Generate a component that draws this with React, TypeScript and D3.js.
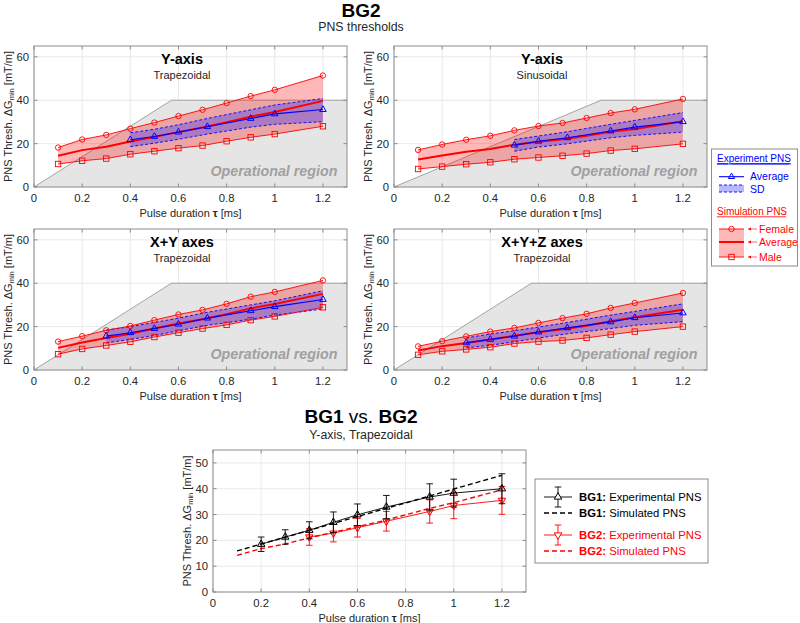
import React from "react";
import * as d3 from "d3";

// ---------- data ----------
const simX = [0.1, 0.2, 0.3, 0.4, 0.5, 0.6, 0.7, 0.8, 0.9, 1.0, 1.2];
const xTicks = [0, 0.2, 0.4, 0.6, 0.8, 1.0, 1.2];
const yTicksTop = [0, 20, 40, 60];
const yTicksBottom = [0, 10, 20, 30, 40, 50];

// Y-axis, trapezoidal
const ytFemale = [18.2, 21.9, 24.0, 26.9, 29.7, 32.7, 35.6, 38.7, 41.9, 44.8, 51.4];
const ytMale = [10.6, 12.1, 13.1, 15.1, 16.5, 17.9, 19.1, 21.1, 22.9, 24.4, 28.0];
const ytAvg = [14.4, 17.0, 18.6, 21.0, 23.1, 25.3, 27.4, 29.9, 32.4, 34.6, 39.7];
const ytExpX = [0.4, 0.5, 0.6, 0.72, 0.9, 1.0, 1.2];
const ytExp = [21.8, 23.3, 25.3, 27.8, 31.6, 33.7, 35.7];
const ytExpUp = [25.0, 26.6, 28.7, 31.6, 35.6, 37.8, 40.8];
const ytExpLo = [18.6, 20.2, 22.0, 24.4, 27.6, 28.9, 30.1];

// Y-axis, sinusoidal
const ysFemale = [17.1, 19.6, 21.8, 23.6, 26.1, 28.1, 29.5, 31.8, 34.1, 35.8, 40.6];
const ysMale = [8.3, 9.4, 10.5, 11.4, 12.8, 13.6, 14.4, 15.4, 16.8, 17.6, 19.9];
const ysAvg = [12.7, 14.5, 16.2, 17.5, 19.5, 20.9, 22.0, 23.6, 25.5, 26.7, 30.3];
const ysExpX = [0.5, 0.6, 0.72, 0.9, 1.0, 1.2];
const ysExp = [19.3, 21.1, 22.7, 25.8, 27.6, 30.1];
const ysExpUp = [21.9, 23.5, 25.5, 28.9, 30.7, 34.3];
const ysExpLo = [16.5, 18.4, 19.9, 22.7, 23.8, 25.3];

// X+Y axes, trapezoidal
const xyFemale = [13.1, 15.6, 18.3, 20.3, 23.0, 25.6, 27.7, 30.5, 33.8, 36.0, 41.3];
const xyMale = [7.3, 9.7, 11.3, 13.0, 15.2, 17.2, 19.1, 20.8, 23.0, 24.7, 28.9];
const xyAvg = [10.2, 12.7, 14.8, 16.7, 19.1, 21.4, 23.4, 25.7, 28.4, 30.4, 35.1];
const xyExpX = [0.3, 0.4, 0.5, 0.6, 0.72, 0.9, 1.0, 1.2];
const xyExp = [15.6, 17.2, 19.1, 21.1, 23.9, 27.3, 29.2, 32.5];
const xyExpUp = [18.4, 20.0, 21.9, 23.9, 26.6, 30.0, 31.9, 36.5];
const xyExpLo = [12.5, 14.1, 15.9, 18.1, 20.6, 23.4, 25.3, 28.1];

// X+Y+Z axes, trapezoidal
const xyzFemale = [10.9, 13.3, 15.5, 17.7, 19.4, 21.7, 23.9, 25.9, 28.6, 30.9, 35.5];
const xyzMale = [7.0, 8.6, 9.5, 10.5, 12.2, 13.1, 13.6, 14.8, 16.3, 17.7, 20.0];
const xyzAvg = [9.0, 11.0, 12.5, 14.1, 15.8, 17.4, 18.8, 20.4, 22.5, 24.3, 27.8];
const xyzExpX = [0.3, 0.4, 0.5, 0.6, 0.72, 0.9, 1.0, 1.2];
const xyzExp = [12.5, 14.1, 15.6, 17.5, 19.4, 22.2, 24.1, 26.3];
const xyzExpUp = [14.8, 16.6, 18.1, 19.8, 21.9, 25.3, 27.0, 30.5];
const xyzExpLo = [10.2, 11.4, 13.0, 14.7, 16.7, 19.1, 20.6, 22.3];

// operational region corner (pulse duration where 40 mT/m is reached)
const trapCorner = 0.571;
const sinCorner = 0.86;
const opLevel = 40;

// BG1 vs BG2
const bg1X = [0.2, 0.3, 0.4, 0.5, 0.6, 0.72, 0.9, 1.0, 1.2];
const bg1Exp = [18.5, 21.3, 23.9, 27.0, 29.9, 32.9, 36.8, 38.3, 40.0];
const bg1Err = [2.8, 2.8, 3.3, 4.0, 4.2, 4.5, 5.1, 5.4, 5.8];
const bg1Sim = [15.9, 18.6, 21.2, 23.9, 26.6, 29.2, 31.9, 34.5, 37.2, 39.9, 45.2];
const bg2X = [0.4, 0.5, 0.6, 0.72, 0.9, 1.0, 1.2];
const bg2Exp = [21.3, 22.8, 24.9, 27.4, 31.2, 33.5, 35.5];
const bg2Err = [3.2, 3.4, 3.6, 3.8, 4.5, 5.1, 5.4];
const bg2Sim = [14.2, 16.8, 18.6, 21.0, 23.1, 25.3, 27.4, 29.9, 32.4, 34.6, 39.6];

// ---------- style ----------
const FONT = "'Liberation Sans', Arial, Helvetica, sans-serif";
const BOX = "#8c8c8c";
const TXT = "#262626";
const GRID = "#e3e3e3";
const RED = "#ff0000";
const BLUE = "#0000ff";
const PINK = "rgba(255,0,0,0.28)";
const LAV = "rgba(40,40,255,0.33)";

const triUp = (x: number, y: number, r: number) =>
  `M${x},${y - r}L${x + r * 0.866},${y + r * 0.5}L${x - r * 0.866},${y + r * 0.5}Z`;
const triDown = (x: number, y: number, r: number) =>
  `M${x},${y + r}L${x + r * 0.866},${y - r * 0.5}L${x - r * 0.866},${y - r * 0.5}Z`;

function fmt(v: number) {
  return v === 0 ? "0" : v === 1 ? "1" : String(Math.round(v * 10) / 10);
}

type AxesProps = {
  x: d3.ScaleLinear<number, number>;
  y: d3.ScaleLinear<number, number>;
  yTicks: number[];
  layer: "grid" | "box";
};

function Axes({ x, y, yTicks, layer }: AxesProps) {
  const [x0, x1] = x.range();
  const [y0, y1] = y.range(); // y0 bottom, y1 top
  if (layer === "grid") {
    return (
      <g>
        <rect x={x0} y={y1} width={x1 - x0} height={y0 - y1} fill="#fff" />
        {xTicks.map((t) => (
          <line key={"gx" + t} x1={x(t)} x2={x(t)} y1={y0} y2={y1} stroke={GRID} strokeWidth={0.8} />
        ))}
        {yTicks.map((t) => (
          <line key={"gy" + t} x1={x0} x2={x1} y1={y(t)} y2={y(t)} stroke={GRID} strokeWidth={0.8} />
        ))}
      </g>
    );
  }
  const tl = 3.5;
  return (
    <g>
      <rect x={x0} y={y1} width={x1 - x0} height={y0 - y1} fill="none" stroke={BOX} strokeWidth={1} />
      {xTicks.map((t) => (
        <g key={"tx" + t}>
          <line x1={x(t)} x2={x(t)} y1={y0} y2={y0 - tl} stroke={BOX} />
          <line x1={x(t)} x2={x(t)} y1={y1} y2={y1 + tl} stroke={BOX} />
          <text x={x(t)} y={y0 + 15} textAnchor="middle" fontSize={11.3} fill={TXT}>
            {fmt(t)}
          </text>
        </g>
      ))}
      {yTicks.map((t) => (
        <g key={"ty" + t}>
          <line x1={x0} x2={x0 + tl} y1={y(t)} y2={y(t)} stroke={BOX} />
          <line x1={x1} x2={x1 - tl} y1={y(t)} y2={y(t)} stroke={BOX} />
          <text x={x0 - 5} y={y(t) + 4} textAnchor="end" fontSize={11.3} fill={TXT}>
            {t}
          </text>
        </g>
      ))}
      <text x={(x0 + x1) / 2} y={y0 + 30} textAnchor="middle" fontSize={11} fill={TXT}>
        Pulse duration <tspan fontWeight="bold">τ</tspan> [ms]
      </text>
      <text
        transform={`translate(${x0 - 22.5},${(y0 + y1) / 2}) rotate(-90)`}
        textAnchor="middle"
        fontSize={11}
        fill={TXT}
      >
        PNS Thresh. ΔG
        <tspan fontSize={7.5} dy={2.5}>
          min
        </tspan>
        <tspan dy={-2.5}> [mT/m]</tspan>
      </text>
    </g>
  );
}

type PanelProps = {
  left: number;
  top: number;
  title: string;
  sub: string;
  corner: number;
  female: number[];
  male: number[];
  avg: number[];
  expX: number[];
  exp: number[];
  up: number[];
  lo: number[];
};

function Panel(p: PanelProps) {
  const x = d3.scaleLinear().domain([0, 1.3]).range([p.left, p.left + 313]);
  const y = d3.scaleLinear().domain([0, 65]).range([p.top + 141, p.top]);
  const simPts = simX.map((v, i) => ({ x: v, f: p.female[i], m: p.male[i], a: p.avg[i] }));
  const expPts = p.expX.map((v, i) => ({ x: v, e: p.exp[i], u: p.up[i], l: p.lo[i] }));
  const pinkArea = d3
    .area<(typeof simPts)[0]>()
    .x((d) => x(d.x))
    .y0((d) => y(d.m))
    .y1((d) => y(d.f));
  const lavArea = d3
    .area<(typeof expPts)[0]>()
    .x((d) => x(d.x))
    .y0((d) => y(d.l))
    .y1((d) => y(d.u));
  const ln = (key: "f" | "m" | "a") =>
    d3
      .line<(typeof simPts)[0]>()
      .x((d) => x(d.x))
      .y((d) => y(d[key]))(simPts) as string;
  const eln = (key: "e" | "u" | "l") =>
    d3
      .line<(typeof expPts)[0]>()
      .x((d) => x(d.x))
      .y((d) => y(d[key]))(expPts) as string;
  const op: [number, number][] = [
    [0, 0],
    [p.corner, opLevel],
    [1.3, opLevel],
    [1.3, 0],
  ];
  const opPath = d3.line()(op.map(([a, b]) => [x(a), y(b)])) + "Z";
  const opEdge = d3.line()(op.slice(0, 3).map(([a, b]) => [x(a), y(b)])) as string;
  return (
    <g>
      <Axes x={x} y={y} yTicks={yTicksTop} layer="grid" />
      <path d={opPath} fill="#e5e5e5" />
      <path d={opEdge} fill="none" stroke="#9a9a9a" strokeWidth={0.9} />
      <text
        x={x(1.3) - 9.5}
        y={y(0) - 11.5}
        textAnchor="end"
        fontSize={14.3}
        fontWeight="bold"
        fontStyle="italic"
        fill="#a0a0a0"
      >
        Operational region
      </text>
      <path d={pinkArea(simPts) as string} fill={PINK} />
      <path d={lavArea(expPts) as string} fill={LAV} />
      <path d={eln("u")} fill="none" stroke={BLUE} strokeWidth={0.9} strokeDasharray="3,2" />
      <path d={eln("l")} fill="none" stroke={BLUE} strokeWidth={0.9} strokeDasharray="3,2" />
      <path d={ln("f")} fill="none" stroke={RED} strokeWidth={0.9} />
      <path d={ln("m")} fill="none" stroke={RED} strokeWidth={0.9} />
      {simPts.map((d) => (
        <g key={"mk" + d.x}>
          <circle cx={x(d.x)} cy={y(d.f)} r={2.7} fill="none" stroke={RED} strokeWidth={0.9} />
          <rect
            x={x(d.x) - 2.7}
            y={y(d.m) - 2.7}
            width={5.4}
            height={5.4}
            fill="none"
            stroke={RED}
            strokeWidth={0.9}
          />
        </g>
      ))}
      <path d={ln("a")} fill="none" stroke={RED} strokeWidth={2} />
      <path d={eln("e")} fill="none" stroke={BLUE} strokeWidth={1.1} />
      {expPts.map((d) => (
        <path key={"tr" + d.x} d={triUp(x(d.x), y(d.e), 3.8)} fill="none" stroke={BLUE} strokeWidth={1} />
      ))}
      <Axes x={x} y={y} yTicks={yTicksTop} layer="box" />
      <text x={p.left + 148} y={p.top + 17.5} textAnchor="middle" fontSize={14.5} fontWeight="bold" fill="#000">
        {p.title}
      </text>
      <text x={p.left + 148} y={p.top + 33.3} textAnchor="middle" fontSize={11} fill={TXT}>
        {p.sub}
      </text>
    </g>
  );
}

function BottomPanel() {
  const x = d3.scaleLinear().domain([0, 1.3]).range([213, 526]);
  const y = d3.scaleLinear().domain([0, 55]).range([592, 450]);
  const simLine = (vals: number[]) =>
    d3
      .line<number>()
      .x((_, i) => x(simX[i]))
      .y((d) => y(d))(vals) as string;
  const expLine = (xs: number[], vals: number[]) =>
    d3
      .line<number>()
      .x((_, i) => x(xs[i]))
      .y((d) => y(d))(vals) as string;
  const errBars = (xs: number[], vals: number[], errs: number[], color: string, down: boolean) =>
    xs.map((xv, i) => {
      const cx = x(xv);
      const yt = y(vals[i] + errs[i]);
      const yb = y(vals[i] - errs[i]);
      const cy = y(vals[i]);
      return (
        <g key={color + xv}>
          <line x1={cx} x2={cx} y1={yt} y2={yb} stroke={color} strokeWidth={0.9} />
          <line x1={cx - 3.3} x2={cx + 3.3} y1={yt} y2={yt} stroke={color} strokeWidth={0.9} />
          <line x1={cx - 3.3} x2={cx + 3.3} y1={yb} y2={yb} stroke={color} strokeWidth={0.9} />
          <path
            d={down ? triDown(cx, cy, 4.3) : triUp(cx, cy, 4.3)}
            fill={down ? "rgba(255,0,0,0.15)" : "rgba(0,0,0,0.12)"}
            stroke={color}
            strokeWidth={1}
          />
        </g>
      );
    });
  return (
    <g>
      <Axes x={x} y={y} yTicks={yTicksBottom} layer="grid" />
      <path d={simLine(bg1Sim)} fill="none" stroke="#000" strokeWidth={1.4} strokeDasharray="5,3" />
      <path d={simLine(bg2Sim)} fill="none" stroke={RED} strokeWidth={1.4} strokeDasharray="5,3" />
      <path d={expLine(bg2X, bg2Exp)} fill="none" stroke={RED} strokeWidth={0.9} />
      {errBars(bg2X, bg2Exp, bg2Err, RED, true)}
      <path d={expLine(bg1X, bg1Exp)} fill="none" stroke="#000" strokeWidth={0.9} />
      {errBars(bg1X, bg1Exp, bg1Err, "#000", false)}
      <Axes x={x} y={y} yTicks={yTicksBottom} layer="box" />
    </g>
  );
}

function TopLegend() {
  const lx = 719;
  const rx = 744;
  const mx = (lx + rx) / 2;
  const tx = 750;
  const fs = 10;
  return (
    <g>
      <rect x={711.5} y={149} width={86} height={117} fill="#fff" stroke={BOX} strokeWidth={1} />
      <text x={717} y={162.3} fontSize={fs} fill={BLUE} textDecoration="underline">
        Experiment PNS
      </text>
      <line x1={717} x2={789} y1={164} y2={164} stroke={BLUE} strokeWidth={0.8} />
      <line x1={lx} x2={rx} y1={176.7} y2={176.7} stroke={BLUE} strokeWidth={1.1} />
      <path d={triUp(mx, 176.7, 3.6)} fill="none" stroke={BLUE} strokeWidth={1} />
      <text x={tx} y={180.3} fontSize={fs + 0.5} fill={BLUE}>
        Average
      </text>
      <rect x={lx} y={185} width={rx - lx} height={7} fill={LAV} />
      <line x1={lx} x2={rx} y1={185} y2={185} stroke={BLUE} strokeWidth={0.9} strokeDasharray="3,2" />
      <line x1={lx} x2={rx} y1={192} y2={192} stroke={BLUE} strokeWidth={0.9} strokeDasharray="3,2" />
      <text x={tx} y={192.5} fontSize={fs + 0.5} fill={BLUE}>
        SD
      </text>
      <text x={717} y={215} fontSize={fs} fill={RED}>
        Simulation PNS
      </text>
      <line x1={717} x2={786} y1={216.8} y2={216.8} stroke={RED} strokeWidth={0.8} />
      <rect x={lx} y={229} width={rx - lx} height={28} fill={PINK} />
      <line x1={lx} x2={rx} y1={229} y2={229} stroke={RED} strokeWidth={0.9} />
      <circle cx={mx} cy={229} r={2.7} fill="none" stroke={RED} strokeWidth={0.9} />
      <line x1={lx} x2={rx} y1={242} y2={242} stroke={RED} strokeWidth={2} />
      <line x1={lx} x2={rx} y1={257} y2={257} stroke={RED} strokeWidth={0.9} />
      <rect x={mx - 2.7} y={257 - 2.7} width={5.4} height={5.4} fill="none" stroke={RED} strokeWidth={0.9} />
      {[
        ["Female", 229],
        ["Average", 242],
        ["Male", 257],
      ].map(([lab, yy]) => (
        <g key={lab as string}>
          <line x1={748} x2={757} y1={yy as number} y2={yy as number} stroke={RED} strokeWidth={0.6} />
          <path
            d={`M748,${yy}l3,-1.6l0,3.2z`}
            fill={RED}
          />
          <text x={759} y={(yy as number) + 3.8} fontSize={fs + 0.5} fill={RED}>
            {lab}
          </text>
        </g>
      ))}
    </g>
  );
}

function BottomLegend() {
  const lx = 544;
  const rx = 572;
  const mx = (lx + rx) / 2;
  const tx = 579;
  const fs = 11.3;
  const rows = [
    { y: 497, c: "#000", lab: "BG1:", exp: true },
    { y: 513, c: "#000", lab: "BG1:", exp: false },
    { y: 535, c: RED, lab: "BG2:", exp: true },
    { y: 551, c: RED, lab: "BG2:", exp: false },
  ];
  return (
    <g>
      <rect x={535} y={479} width={173} height={84} fill="#fff" stroke={BOX} strokeWidth={1} />
      {rows.map((r, i) => (
        <g key={i}>
          {r.exp ? (
            <g>
              <line x1={lx} x2={rx} y1={r.y} y2={r.y} stroke={r.c} strokeWidth={0.9} />
              <line x1={mx} x2={mx} y1={r.y - 10} y2={r.y + 10} stroke={r.c} strokeWidth={0.9} />
              <line x1={mx - 3.3} x2={mx + 3.3} y1={r.y - 10} y2={r.y - 10} stroke={r.c} strokeWidth={0.9} />
              <line x1={mx - 3.3} x2={mx + 3.3} y1={r.y + 10} y2={r.y + 10} stroke={r.c} strokeWidth={0.9} />
              <path
                d={i === 0 ? triUp(mx, r.y, 4.3) : triDown(mx, r.y, 4.3)}
                fill="#fff"
                stroke={r.c}
                strokeWidth={1}
              />
            </g>
          ) : (
            <line x1={lx} x2={rx} y1={r.y} y2={r.y} stroke={r.c} strokeWidth={1.4} strokeDasharray="5,3" />
          )}
          <text x={tx} y={r.y + 4} fontSize={fs} fill={r.c}>
            <tspan fontWeight="bold">{r.lab}</tspan>
            {r.exp ? " Experimental PNS" : " Simulated PNS"}
          </text>
        </g>
      ))}
    </g>
  );
}

export default function App() {
  return (
    <svg
      width={800}
      height={623}
      viewBox="0 0 800 623"
      style={{ position: "absolute", left: 0, top: 0, background: "#fff", fontFamily: FONT }}
      fontFamily={FONT}
    >
      <rect x={0} y={0} width={800} height={623} fill="#fff" />
      <text x={361} y={16.5} textAnchor="middle" fontSize={19} fontWeight="bold" fill="#000">
        BG2
      </text>
      <text x={361} y={31} textAnchor="middle" fontSize={12.3} fill={TXT}>
        PNS thresholds
      </text>
      <Panel
        left={34}
        top={46}
        title="Y-axis"
        sub="Trapezoidal"
        corner={trapCorner}
        female={ytFemale}
        male={ytMale}
        avg={ytAvg}
        expX={ytExpX}
        exp={ytExp}
        up={ytExpUp}
        lo={ytExpLo}
      />
      <Panel
        left={394}
        top={46}
        title="Y-axis"
        sub="Sinusoidal"
        corner={sinCorner}
        female={ysFemale}
        male={ysMale}
        avg={ysAvg}
        expX={ysExpX}
        exp={ysExp}
        up={ysExpUp}
        lo={ysExpLo}
      />
      <Panel
        left={34}
        top={229}
        title="X+Y axes"
        sub="Trapezoidal"
        corner={trapCorner}
        female={xyFemale}
        male={xyMale}
        avg={xyAvg}
        expX={xyExpX}
        exp={xyExp}
        up={xyExpUp}
        lo={xyExpLo}
      />
      <Panel
        left={394}
        top={229}
        title="X+Y+Z axes"
        sub="Trapezoidal"
        corner={trapCorner}
        female={xyzFemale}
        male={xyzMale}
        avg={xyzAvg}
        expX={xyzExpX}
        exp={xyzExp}
        up={xyzExpUp}
        lo={xyzExpLo}
      />
      <TopLegend />
      <text x={361} y={422.7} textAnchor="middle" fontSize={19} fill="#000">
        <tspan fontWeight="bold">BG1</tspan> vs. <tspan fontWeight="bold">BG2</tspan>
      </text>
      <text x={361} y={439.3} textAnchor="middle" fontSize={12.3} fill={TXT}>
        Y-axis, Trapezoidal
      </text>
      <BottomPanel />
      <BottomLegend />
    </svg>
  );
}
